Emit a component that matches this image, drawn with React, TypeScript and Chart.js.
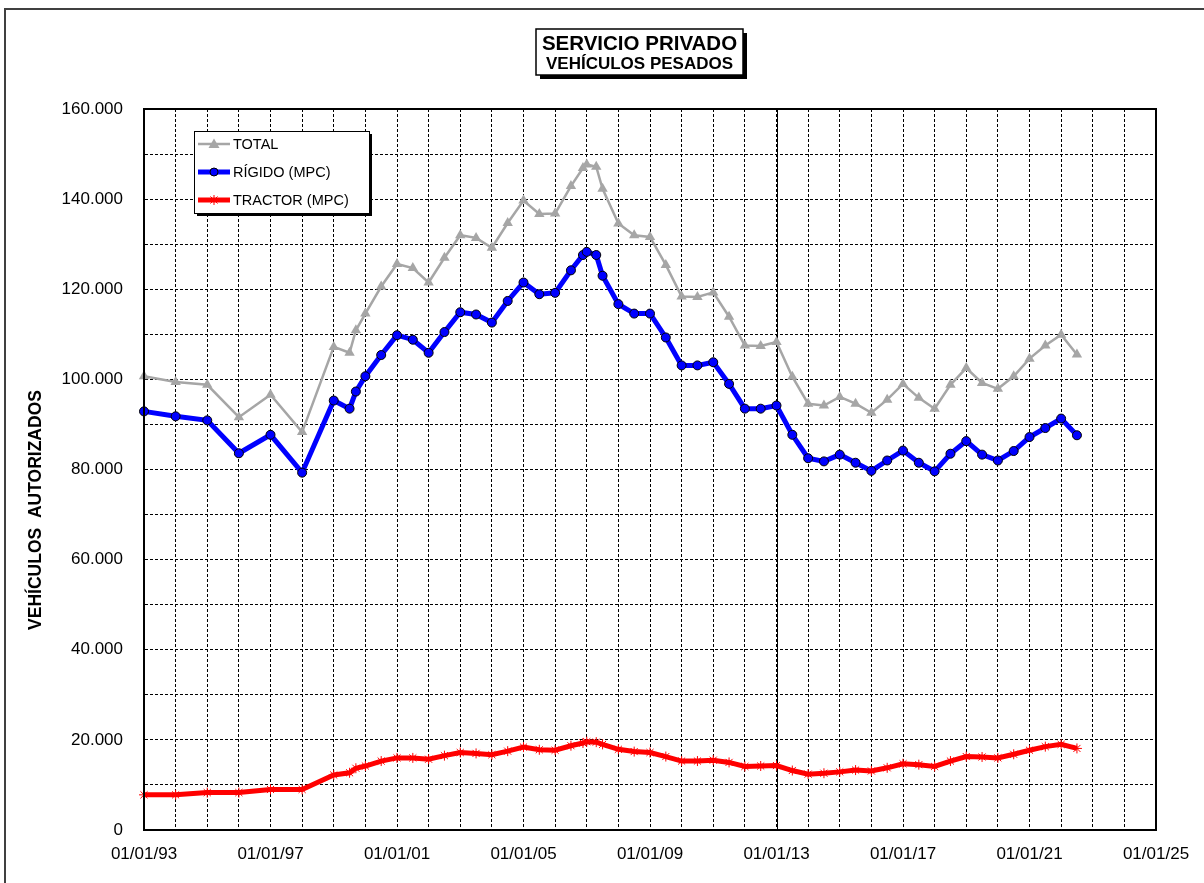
import React, { useEffect, useRef } from 'react';
import { Chart, registerables } from 'chart.js';

Chart.register(...registerables);

// ---- data ----
const DATES = [
  1993, 1994, 1995, 1996, 1997, 1998, 1999, 1999.5, 1999.7, 2000, 2000.5, 2001, 2001.5, 2002, 2002.5,
  2003, 2003.5, 2004, 2004.5, 2005, 2005.5, 2006, 2006.5, 2006.88, 2007, 2007.3, 2007.5, 2008, 2008.5,
  2009, 2009.5, 2010, 2010.5, 2011, 2011.5, 2012, 2012.5, 2013, 2013.5, 2014, 2014.5, 2015, 2015.5,
  2016, 2016.5, 2017, 2017.5, 2018, 2018.5, 2019, 2019.5, 2020, 2020.5, 2021, 2021.5, 2022, 2022.5,
];
const TOTAL = [
  100700, 99400, 98800, 91600, 96600, 88300, 107200, 105900, 110900, 114600, 120600, 125600, 124700, 121500, 127000,
  132000, 131400, 129200, 134700, 139700, 136700, 136800, 142900, 146900, 147700, 147200, 142300, 134600, 132000,
  131600, 125400, 118400, 118300, 119300, 113900, 107500, 107400, 108300, 100600, 94600, 94200, 96100, 94600,
  92600, 95500, 99000, 95900, 93500, 98800, 102500, 99200, 97900, 100700, 104600, 107500, 109900, 105500,
];
const RIGIDO = [
  92900, 91800, 90900, 83600, 87700, 79300, 95300, 93500, 97300, 100700, 105400, 109800, 108800, 105900, 110500,
  114900, 114400, 112600, 117400, 121500, 118900, 119200, 124200, 127600, 128300, 127600, 123000, 116700, 114600,
  114600, 109300, 103100, 103100, 103800, 99000, 93500, 93500, 94200, 87700, 82500, 81800, 83300, 81500,
  79700, 82000, 84200, 81500, 79600, 83500, 86300, 83300, 82000, 84100, 87200, 89200, 91300, 87600,
];
const TRACTOR = [
  7800, 7800, 8300, 8300, 9000, 9000, 12200, 12700, 13700, 14200, 15300, 16000, 16000, 15700, 16500,
  17200, 17000, 16700, 17500, 18400, 17800, 17700, 18700, 19300, 19600, 19500, 19000, 17900, 17400,
  17200, 16300, 15300, 15300, 15500, 15000, 14100, 14200, 14300, 13200, 12400, 12600, 12900, 13300,
  13100, 13800, 14700, 14500, 14100, 15300, 16300, 16200, 16000, 16800, 17700, 18500, 19000, 18100,
];
const SERIES_NAMES = ['TOTAL', 'RÍGIDO (MPC)', 'TRACTOR (MPC)'];
const TITLE_LINES = ['SERVICIO PRIVADO', 'VEHÍCULOS PESADOS'];
const Y_TITLE = 'VEHÍCULOS  AUTORIZADOS';
const X_MIN = 1993;
const X_MAX = 2025;
const X_LABEL_EVERY = 4;
const Y_MAX = 160000;
const Y_STEP = 10000;
const Y_LABEL_EVERY = 20000;

const FONT = '"Liberation Sans", Arial, sans-serif';
const C_TOTAL = '#A6A6A6';
const C_RIGIDO = '#0000FF';
const C_TRACTOR = '#FF0000';

const toPoints = (vals: number[]) => vals.map((v, i) => ({ x: DATES[i], y: v }));

const fmtThousands = (v: number) => {
  const s = String(Math.round(v));
  return s.replace(/\B(?=(\d{3})+(?!\d))/g, '.');
};

function drawMarker(ctx: CanvasRenderingContext2D, kind: number, x: number, y: number) {
  ctx.save();
  if (kind === 0) {
    ctx.fillStyle = C_TOTAL;
    ctx.beginPath();
    ctx.moveTo(x, y - 5.5);
    ctx.lineTo(x + 5.5, y + 4);
    ctx.lineTo(x - 5.5, y + 4);
    ctx.closePath();
    ctx.fill();
  } else if (kind === 1) {
    ctx.fillStyle = C_RIGIDO;
    ctx.strokeStyle = '#000';
    ctx.lineWidth = 1;
    ctx.beginPath();
    ctx.arc(x, y, 4, 0, Math.PI * 2);
    ctx.fill();
    ctx.stroke();
  } else {
    ctx.strokeStyle = C_TRACTOR;
    ctx.lineWidth = 1;
    ctx.beginPath();
    const r = 5;
    for (let k = 0; k < 4; k++) {
      const ang = (k * Math.PI) / 4;
      ctx.moveTo(x + Math.cos(ang) * r, y + Math.sin(ang) * r);
      ctx.lineTo(x - Math.cos(ang) * r, y - Math.sin(ang) * r);
    }
    ctx.stroke();
  }
  ctx.restore();
}

const decorPlugin = {
  id: 'decor',
  beforeDraw(chart: any) {
    const { ctx, width, height } = chart;
    ctx.save();
    ctx.fillStyle = '#fff';
    ctx.fillRect(0, 0, width, height);
    ctx.restore();
  },
  beforeDatasetsDraw(chart: any) {
    const { ctx, chartArea: a, scales } = chart;
    const px = Math.round(scales.x.getPixelForValue(2013)) + 0.5;
    ctx.save();
    ctx.strokeStyle = '#000';
    ctx.lineWidth = 1;
    ctx.beginPath();
    ctx.moveTo(px, a.top);
    ctx.lineTo(px, a.bottom);
    ctx.stroke();
    ctx.restore();
  },
  afterDatasetsDraw(chart: any) {
    const { ctx, chartArea: a } = chart;
    ctx.save();
    // outer frame
    ctx.strokeStyle = '#404040';
    ctx.lineWidth = 2;
    ctx.beginPath();
    ctx.moveTo(5, 890);
    ctx.lineTo(5, 9);
    ctx.lineTo(1210, 9);
    ctx.stroke();

    // plot border
    ctx.strokeStyle = '#000';
    ctx.lineWidth = 2;
    ctx.strokeRect(a.left, a.top, a.right - a.left, a.bottom - a.top);

    // title box
    const tb = { x: 536, y: 29, w: 207, h: 46 };
    ctx.fillStyle = '#000';
    ctx.fillRect(tb.x + 4, tb.y + 4, tb.w, tb.h);
    ctx.fillStyle = '#fff';
    ctx.fillRect(tb.x, tb.y, tb.w, tb.h);
    ctx.lineWidth = 1.5;
    ctx.strokeStyle = '#000';
    ctx.strokeRect(tb.x, tb.y, tb.w, tb.h);
    ctx.fillStyle = '#000';
    ctx.textAlign = 'center';
    ctx.textBaseline = 'middle';
    ctx.font = `bold 20.5px ${FONT}`;
    ctx.fillText(TITLE_LINES[0], tb.x + tb.w / 2, 44.5);
    ctx.font = `bold 17px ${FONT}`;
    ctx.fillText(TITLE_LINES[1], tb.x + tb.w / 2, 64);

    // legend box
    const lb = { x: 194, y: 131, w: 175, h: 82 };
    ctx.fillStyle = '#000';
    ctx.fillRect(lb.x + 3, lb.y + 3, lb.w, lb.h);
    ctx.fillStyle = '#fff';
    ctx.fillRect(lb.x, lb.y, lb.w, lb.h);
    ctx.lineWidth = 1;
    ctx.strokeStyle = '#000';
    ctx.strokeRect(lb.x + 0.5, lb.y + 0.5, lb.w, lb.h);
    const rows = [144, 172, 200];
    const colors = [C_TOTAL, C_RIGIDO, C_TRACTOR];
    const widths = [2.5, 5, 5];
    ctx.font = `14.5px ${FONT}`;
    ctx.textAlign = 'left';
    ctx.textBaseline = 'middle';
    rows.forEach((ry, i) => {
      ctx.strokeStyle = colors[i];
      ctx.lineWidth = widths[i];
      ctx.beginPath();
      ctx.moveTo(198, ry);
      ctx.lineTo(230, ry);
      ctx.stroke();
      drawMarker(ctx, i, 214, ry);
      ctx.fillStyle = '#000';
      ctx.fillText(SERIES_NAMES[i], 233, ry + 1);
    });

    // y axis title
    ctx.save();
    ctx.translate(36, 510);
    ctx.rotate(-Math.PI / 2);
    ctx.font = `bold 17.5px ${FONT}`;
    ctx.textAlign = 'center';
    ctx.textBaseline = 'middle';
    ctx.fillStyle = '#000';
    ctx.fillText(Y_TITLE, 0, 0);
    ctx.restore();

    ctx.restore();
  },
};

export default function App() {
  const ref = useRef<HTMLCanvasElement | null>(null);

  useEffect(() => {
    document.body.style.margin = '0';
    const canvas = ref.current;
    if (!canvas) return;
    const chart = new Chart(canvas, {
      type: 'line',
      data: {
        datasets: [
          {
            label: SERIES_NAMES[2],
            data: toPoints(TRACTOR),
            borderColor: C_TRACTOR,
            backgroundColor: C_TRACTOR,
            borderWidth: 5,
            pointStyle: 'star',
            pointRadius: 5,
            pointBorderWidth: 1,
            pointBorderColor: C_TRACTOR,
            tension: 0,
            clip: false,
          } as any,
          {
            label: SERIES_NAMES[1],
            data: toPoints(RIGIDO),
            borderColor: C_RIGIDO,
            backgroundColor: C_RIGIDO,
            borderWidth: 5,
            pointStyle: 'circle',
            pointRadius: 4.5,
            pointBorderWidth: 1,
            pointBorderColor: '#000',
            pointBackgroundColor: C_RIGIDO,
            tension: 0,
            clip: false,
          } as any,
          {
            label: SERIES_NAMES[0],
            data: toPoints(TOTAL),
            borderColor: C_TOTAL,
            backgroundColor: C_TOTAL,
            borderWidth: 2.5,
            pointStyle: 'triangle',
            pointRadius: 6,
            pointBorderWidth: 0,
            pointBackgroundColor: C_TOTAL,
            tension: 0,
            clip: false,
          } as any,
        ],
      },
      options: {
        responsive: false,
        animation: false,
        events: [],
        layout: { padding: { left: 0, top: 109, right: 48, bottom: 0 } },
        plugins: {
          legend: { display: false },
          title: { display: false },
          tooltip: { enabled: false },
        },
        scales: {
          x: {
            type: 'linear',
            min: X_MIN,
            max: X_MAX,
            afterFit: (s: any) => {
              s.height = 53;
            },
            afterBuildTicks: (s: any) => {
              const t = [];
              for (let v = X_MIN; v <= X_MAX; v++) t.push({ value: v });
              s.ticks = t;
            },
            ticks: {
              autoSkip: false,
              maxRotation: 0,
              minRotation: 0,
              padding: 14,
              color: '#000',
              font: { family: FONT, size: 17 },
              callback: (v: any) => {
                const n = Number(v);
                if ((n - X_MIN) % X_LABEL_EVERY !== 0) return '';
                return `01/01/${String(n % 100).padStart(2, '0')}`;
              },
            },
            grid: { color: '#000', lineWidth: 1, drawTicks: false },
            border: { display: true, color: '#000', width: 2, dash: [3, 2] },
          },
          y: {
            type: 'linear',
            min: 0,
            max: Y_MAX,
            afterFit: (s: any) => {
              s.width = 144;
            },
            ticks: {
              stepSize: Y_STEP,
              autoSkip: false,
              padding: 21,
              color: '#000',
              font: { family: FONT, size: 17 },
              callback: (v: any) => {
                const n = Number(v);
                if (n % Y_LABEL_EVERY !== 0) return '';
                return fmtThousands(n);
              },
            },
            grid: { color: '#000', lineWidth: 1, drawTicks: false },
            border: { display: true, color: '#000', width: 2, dash: [3, 2] },
          },
        },
      } as any,
      plugins: [decorPlugin],
    });
    return () => chart.destroy();
  }, []);

  return (
    <canvas ref={ref} width={1204} height={883} style={{ display: 'block', width: 1204, height: 883 }} />
  );
}
